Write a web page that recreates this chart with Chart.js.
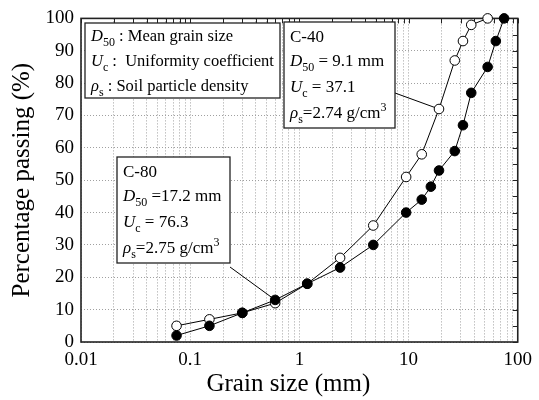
<!DOCTYPE html>
<html>
<head>
<meta charset="utf-8">
<script src="https://cdn.jsdelivr.net/npm/chart.js@4.4.1/dist/chart.umd.min.js"></script>
<style>
  html, body { margin: 0; padding: 0; background: #fff; }
</style>
</head>
<body>
<canvas id="grading" width="539" height="400"></canvas>
<script>
// sieve sizes (mm) and percentage passing
const sizeC40 = [0.075, 0.15, 0.3, 0.6, 1.18, 2.36, 4.75, 9.5, 13.2, 19, 26.5, 31.5, 37.5, 53];
const passC40 = [5, 7, 9, 12, 18, 26, 36, 51, 58, 72, 87, 93, 98, 100];
const sizeC80 = [0.075, 0.15, 0.3, 0.6, 1.18, 2.36, 4.75, 9.5, 13.2, 16, 19, 26.5, 31.5, 37.5, 53, 63, 75];
const passC80 = [2, 5, 9, 13, 18, 23, 30, 40, 44, 48, 53, 59, 67, 77, 85, 93, 100];

const xTickLabels = ["0.01", "0.1", "1", "10", "100"];
const yTickLabels = ["0", "10", "20", "30", "40", "50", "60", "70", "80", "90", "100"];
const xTitle = "Grain size (mm)";
const yTitle = "Percentage passing (%)";

// annotation text: *x* = italic, _{..} = subscript, ^{..} = superscript
const notesLegend = ["*D*_{50} : Mean grain size", "*U*_{c} :  Uniformity coefficient", "*ρ*_{s} : Soil particle density"];
const notesC40 = ["C-40", "*D*_{50} = 9.1 mm", "*U*_{c} = 37.1", "*ρ*_{s}=2.74 g/cm^{3}"];
const notesC80 = ["C-80", "*D*_{50} =17.2 mm", "*U*_{c} = 76.3", "*ρ*_{s}=2.75 g/cm^{3}"];

const SERIF = '"Liberation Serif", "Times New Roman", serif';

function parseRich(str) {
  const parts = [];
  const re = /\*([^*]+)\*|_\{([^}]*)\}|\^\{([^}]*)\}|([^*_^]+)/g;
  let m;
  while ((m = re.exec(str)) !== null) {
    if (m[1]) parts.push({ t: m[1], it: true });
    else if (m[2]) parts.push({ t: m[2], sub: true });
    else if (m[3]) parts.push({ t: m[3], sup: true });
    else parts.push({ t: m[4] });
  }
  return parts;
}

function drawRich(ctx, x, y, str, size) {
  parseRich(str).forEach((p) => {
    const s = p.sub || p.sup ? Math.round(size * 0.7) : size;
    ctx.font = (p.it ? "italic " : "") + s + "px " + SERIF;
    const dy = p.sub ? size * 0.28 : p.sup ? -size * 0.42 : 0;
    ctx.fillText(p.t, x, y + dy);
    x += ctx.measureText(p.t).width;
  });
}

function noteBox(ctx, box, lines, baselines, size) {
  ctx.save();
  ctx.fillStyle = "#fff";
  ctx.fillRect(box.x, box.y, box.w, box.h);
  ctx.strokeStyle = "#222";
  ctx.lineWidth = 1.3;
  ctx.strokeRect(box.x, box.y, box.w, box.h);
  ctx.fillStyle = "#000";
  ctx.textBaseline = "alphabetic";
  lines.forEach((ln, i) => drawRich(ctx, box.x + box.tx, box.y + baselines[i], ln, size));
  ctx.restore();
}

const frameAndNotes = {
  id: "frameAndNotes",
  beforeDatasetsDraw(chart) {
    const { ctx, chartArea: a, scales: { x, y } } = chart;
    ctx.save();
    // inward ticks on top (x minor) and right (every 5 %)
    ctx.strokeStyle = "#222";
    ctx.lineWidth = 1;
    ctx.beginPath();
    x.ticks.forEach((t) => {
      const px = Math.round(x.getPixelForValue(t.value)) + 0.5;
      ctx.moveTo(px, a.top);
      ctx.lineTo(px, a.top + 5);
    });
    for (let v = 0; v <= 100; v += 5) {
      const py = Math.round(y.getPixelForValue(v)) + 0.5;
      ctx.moveTo(a.right, py);
      ctx.lineTo(a.right - 5, py);
    }
    ctx.stroke();
    // frame
    ctx.lineWidth = 1.6;
    ctx.strokeRect(a.left, a.top, a.right - a.left, a.bottom - a.top);

    // leader lines to the curves
    ctx.lineWidth = 1;
    ctx.strokeStyle = "#000";
    ctx.beginPath();
    ctx.moveTo(395, 93);
    ctx.lineTo(x.getPixelForValue(sizeC40[9]), y.getPixelForValue(passC40[9]));
    ctx.moveTo(230, 267);
    ctx.lineTo(x.getPixelForValue(sizeC80[3]), y.getPixelForValue(passC80[3]));
    ctx.stroke();

    // x title, sits a little left of the plot centre in the original
    ctx.fillStyle = "#000";
    ctx.font = "25px " + SERIF;
    ctx.textAlign = "center";
    ctx.textBaseline = "middle";
    ctx.fillText(xTitle, (a.left + a.right) / 2 - 11, 384);
    ctx.restore();

    noteBox(ctx, { x: 85, y: 23, w: 195, h: 75, tx: 6 }, notesLegend, [18, 43, 68], 16.5);
    noteBox(ctx, { x: 284, y: 22, w: 111, h: 106, tx: 6 }, notesC40, [20, 44, 70, 96], 17);
    noteBox(ctx, { x: 117, y: 157, w: 113, h: 106, tx: 6 }, notesC80, [20, 44, 70, 96], 17);
  }
};

// minor grid positions for the log axis
const xGrid = [];
for (let e = -2; e < 2; e++) {
  for (let k = 1; k < 10; k++) xGrid.push(k * Math.pow(10, e));
}
xGrid.push(100);

const ctx = document.getElementById("grading").getContext("2d");
new Chart(ctx, {
  type: "line",
  plugins: [frameAndNotes],
  data: {
    datasets: [
      {
        label: "C-80",
        data: sizeC80.map((s, i) => ({ x: s, y: passC80[i] })),
        borderColor: "#000",
        borderWidth: 1,
        pointRadius: 4.8,
        pointBackgroundColor: "#000",
        pointBorderColor: "#000",
        pointBorderWidth: 1,
        order: 1,
        clip: false,
      },
      {
        label: "C-40",
        data: sizeC40.map((s, i) => ({ x: s, y: passC40[i] })),
        borderColor: "#000",
        borderWidth: 1,
        pointRadius: 4.8,
        pointBackgroundColor: "#fff",
        pointBorderColor: "#000",
        pointBorderWidth: 1,
        order: 2,
        clip: false,
      },
    ],
  },
  options: {
    responsive: false,
    animation: false,
    layout: { padding: { top: 15, right: 15, left: 0, bottom: 0 } },
    plugins: { legend: { display: false }, tooltip: { enabled: false } },
    scales: {
      x: {
        type: "logarithmic",
        min: 0.01,
        max: 100,
        afterBuildTicks: (s) => {
          s.ticks = xGrid.map((v) => ({ value: v }));
        },
        afterFit: (s) => {
          s.height = 58;
        },
        grid: { color: "#a0a0a0", lineWidth: 1, drawTicks: false },
        border: { display: false, dash: [1, 2] },
        ticks: {
          autoSkip: false,
          maxRotation: 0,
          padding: 7,
          color: "#000",
          font: { family: SERIF, size: 19 },
          callback: (v) => {
            const lg = Math.log10(v);
            if (Math.abs(lg - Math.round(lg)) > 1e-9) return "";
            return xTickLabels[Math.round(lg) + 2];
          },
        },
      },
      y: {
        min: 0,
        max: 100,
        afterFit: (s) => {
          s.width = 81;
        },
        grid: { color: "#a0a0a0", lineWidth: 1, drawTicks: false },
        border: { display: false, dash: [1, 2] },
        ticks: {
          stepSize: 10,
          padding: 7,
          color: "#000",
          font: { family: SERIF, size: 19 },
          callback: (v) => yTickLabels[Math.round(v / 10)],
        },
        title: {
          display: true,
          text: yTitle,
          color: "#000",
          font: { family: SERIF, size: 25 },
          padding: { top: 7, bottom: 0 },
        },
      },
    },
  },
});
</script>
</body>
</html>
